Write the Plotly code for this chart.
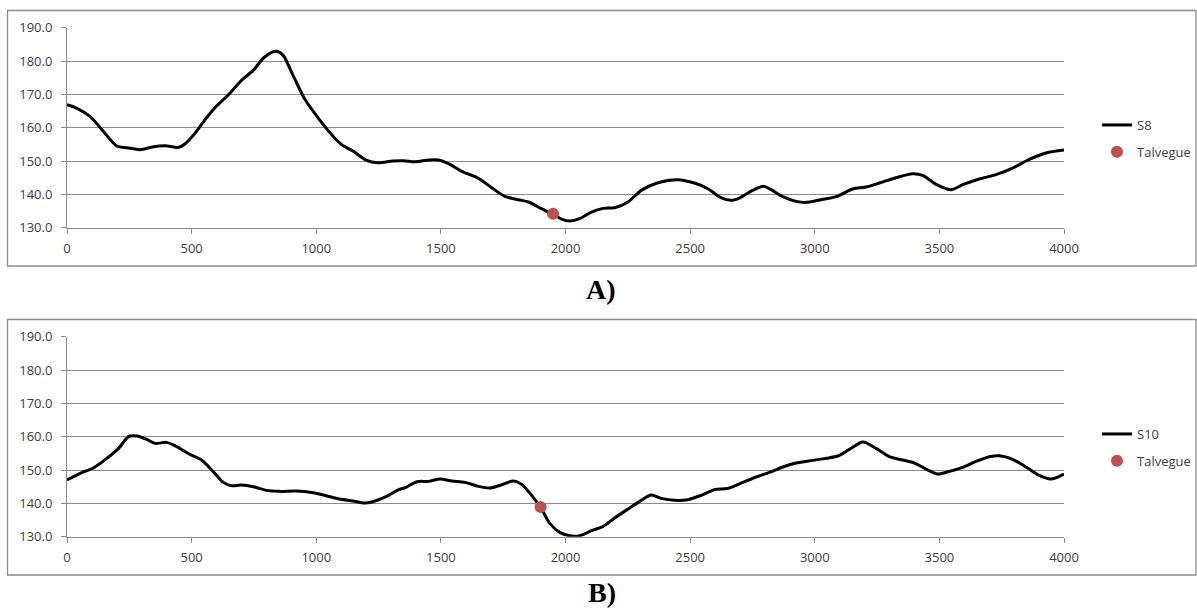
import plotly.graph_objects as go

# ---------------- data ----------------
dist_s8 = [0, 40, 93, 147, 200, 240, 293, 347, 393, 447, 473, 513, 560, 600, 647, 700, 747, 793, 840, 867,
           907, 953, 1000, 1047, 1100, 1147, 1200, 1247, 1307, 1351, 1397, 1451, 1491, 1531, 1584, 1651, 1704,
           1757, 1811, 1851, 1904, 1951, 1984, 2017, 2057, 2104, 2151, 2197, 2251, 2304, 2371, 2451, 2517,
           2571, 2624, 2664, 2698, 2751, 2795, 2825, 2872, 2925, 2965, 3019, 3086, 3152, 3206, 3259, 3326,
           3393, 3433, 3487, 3547, 3594, 3660, 3727, 3794, 3861, 3928, 4000]
elev_s8 = [166.9, 165.8, 163.3, 158.8, 154.5, 154.0, 153.4, 154.3, 154.6, 154.1, 155.1, 158.3, 163.0, 166.5,
           169.8, 174.2, 177.2, 181.2, 182.9, 181.7, 175.7, 168.7, 163.7, 159.2, 155.0, 153.0, 150.3, 149.5,
           150.0, 150.1, 149.8, 150.3, 150.3, 149.2, 146.9, 144.8, 142.0, 139.4, 138.4, 137.7, 135.7, 134.0,
           132.6, 132.0, 132.7, 134.7, 135.8, 136.0, 137.7, 141.2, 143.5, 144.4, 143.4, 141.7, 139.0, 138.2,
           138.9, 141.2, 142.4, 141.4, 139.3, 137.9, 137.6, 138.3, 139.3, 141.6, 142.2, 143.4, 145.0, 146.2,
           145.7, 143.0, 141.4, 142.9, 144.6, 145.9, 147.9, 150.5, 152.4, 153.3]
talvegue_s8_x = [1950]
talvegue_s8_y = [134.2]

dist_s10 = [0, 53, 107, 160, 207, 247, 280, 320, 353, 400, 440, 493, 540, 587, 627, 660, 700, 747, 800, 853,
            920, 987, 1040, 1093, 1147, 1193, 1227, 1280, 1333, 1357, 1404, 1451, 1497, 1544, 1597, 1651, 1697,
            1744, 1791, 1824, 1864, 1900, 1937, 1977, 2024, 2057, 2104, 2151, 2197, 2251, 2304, 2344, 2384,
            2437, 2491, 2544, 2597, 2651, 2711, 2765, 2818, 2872, 2925, 2992, 3045, 3092, 3139, 3193, 3246,
            3299, 3353, 3400, 3446, 3493, 3540, 3594, 3647, 3701, 3741, 3794, 3848, 3901, 3948, 4000]
elev_s10 = [147.0, 149.0, 150.7, 153.5, 156.5, 160.0, 160.2, 159.2, 158.0, 158.3, 157.0, 154.7, 153.0, 149.5,
            146.3, 145.3, 145.5, 145.0, 143.9, 143.6, 143.7, 143.2, 142.3, 141.3, 140.7, 140.1, 140.5, 142.0,
            144.2, 144.7, 146.5, 146.6, 147.3, 146.7, 146.3, 145.1, 144.6, 145.6, 146.7, 145.7, 142.4, 138.8,
            134.0, 131.3, 130.2, 130.3, 131.8, 133.1, 135.6, 138.3, 140.9, 142.5, 141.5, 140.9, 141.1, 142.4,
            144.1, 144.5, 146.3, 147.9, 149.3, 150.9, 152.1, 152.9, 153.5, 154.2, 156.2, 158.4, 156.5, 154.0,
            153.0, 152.1, 150.3, 148.8, 149.6, 150.8, 152.6, 154.0, 154.3, 153.2, 150.9, 148.4, 147.3, 148.8]
talvegue_s10_x = [1900]
talvegue_s10_y = [138.9]

x_ticks = [0, 500, 1000, 1500, 2000, 2500, 3000, 3500, 4000]
y_ticks = [130, 140, 150, 160, 170, 180, 190]

# ---------------- figure ----------------
W, H = 1197, 609
LINE_C = "black"
DOT_C = "#C0504D"
GRID_C = "#8C8C8C"
TXT_C = "#404040"
FONT = "Open Sans"
FS = 13

fig = go.Figure()
fig.add_trace(go.Scatter(x=dist_s8, y=elev_s8, mode="lines", name="S8",
                         line=dict(color=LINE_C, width=3, shape="spline", smoothing=0.8),
                         xaxis="x", yaxis="y", legend="legend", legendgroup="a1"))
fig.add_trace(go.Scatter(x=talvegue_s8_x, y=talvegue_s8_y, mode="markers", name="Talvegue",
                         marker=dict(color=DOT_C, size=12),
                         xaxis="x", yaxis="y", legend="legend", legendgroup="a2"))
fig.add_trace(go.Scatter(x=dist_s10, y=elev_s10, mode="lines", name="S10",
                         line=dict(color=LINE_C, width=3, shape="spline", smoothing=0.8),
                         xaxis="x2", yaxis="y2", legend="legend2", legendgroup="b1"))
fig.add_trace(go.Scatter(x=talvegue_s10_x, y=talvegue_s10_y, mode="markers", name="Talvegue",
                         marker=dict(color=DOT_C, size=12),
                         xaxis="x2", yaxis="y2", legend="legend2", legendgroup="b2"))

xdom = [67 / W, 1064 / W]
ydomA = [1 - 227.7 / H, 1 - 27.7 / H]
ydomB = [1 - 536.7 / H, 1 - 336.7 / H]

xcommon = dict(range=[0, 4000], tickvals=x_ticks, showgrid=False, zeroline=False,
               showline=True, linecolor=GRID_C, linewidth=1, ticks="outside", ticklen=5,
               tickcolor=GRID_C, tickfont=dict(family=FONT, size=FS, color=TXT_C),
               ticklabelstandoff=4, fixedrange=True, automargin=False)
ycommon = dict(range=[130, 190], tickvals=y_ticks, tickformat=".1f", showgrid=True,
               gridcolor=GRID_C, gridwidth=1, zeroline=False, showline=True, linecolor=GRID_C,
               linewidth=1, ticks="outside", ticklen=5, tickcolor=GRID_C,
               tickfont=dict(family=FONT, size=FS, color=TXT_C), ticklabelstandoff=6,
               fixedrange=True, automargin=False)

legcommon = dict(font=dict(family=FONT, size=FS, color=TXT_C), bgcolor="rgba(0,0,0,0)",
                 xanchor="left", yanchor="top", traceorder="grouped", tracegroupgap=7)

fig.update_layout(
    width=W, height=H, margin=dict(l=0, r=0, t=0, b=0, autoexpand=False),
    paper_bgcolor="white", plot_bgcolor="white",
    xaxis=dict(domain=xdom, anchor="y", **xcommon),
    yaxis=dict(domain=ydomA, anchor="x", **ycommon),
    xaxis2=dict(domain=xdom, anchor="y2", **xcommon),
    yaxis2=dict(domain=ydomB, anchor="x2", **ycommon),
    legend=dict(x=1097 / W, y=1 - 110 / H, **legcommon),
    legend2=dict(x=1097 / W, y=1 - 419 / H, **legcommon),
    shapes=[
        dict(type="rect", xref="paper", yref="paper", x0=7.5 / W, x1=1196 / W,
             y0=1 - 266 / H, y1=1 - 10.5 / H, line=dict(color=GRID_C, width=1.3), layer="below"),
        dict(type="rect", xref="paper", yref="paper", x0=7.5 / W, x1=1196 / W,
             y0=1 - 575 / H, y1=1 - 319.5 / H, line=dict(color=GRID_C, width=1.3), layer="below"),
    ],
    annotations=[
        dict(text="<b>A)</b>", xref="paper", yref="paper", x=601 / W, y=1 - 289 / H,
             showarrow=False, xanchor="center", yanchor="middle",
             font=dict(family="Liberation Serif", size=28, color="black")),
        dict(text="<b>B)</b>", xref="paper", yref="paper", x=602 / W, y=1 - 592 / H,
             showarrow=False, xanchor="center", yanchor="middle",
             font=dict(family="Liberation Serif", size=28, color="black")),
    ],
)

fig.write_html("out.html", config={"displayModeBar": False, "staticPlot": True},
               post_script="document.body.style.margin='0';document.body.style.overflow='hidden';")
